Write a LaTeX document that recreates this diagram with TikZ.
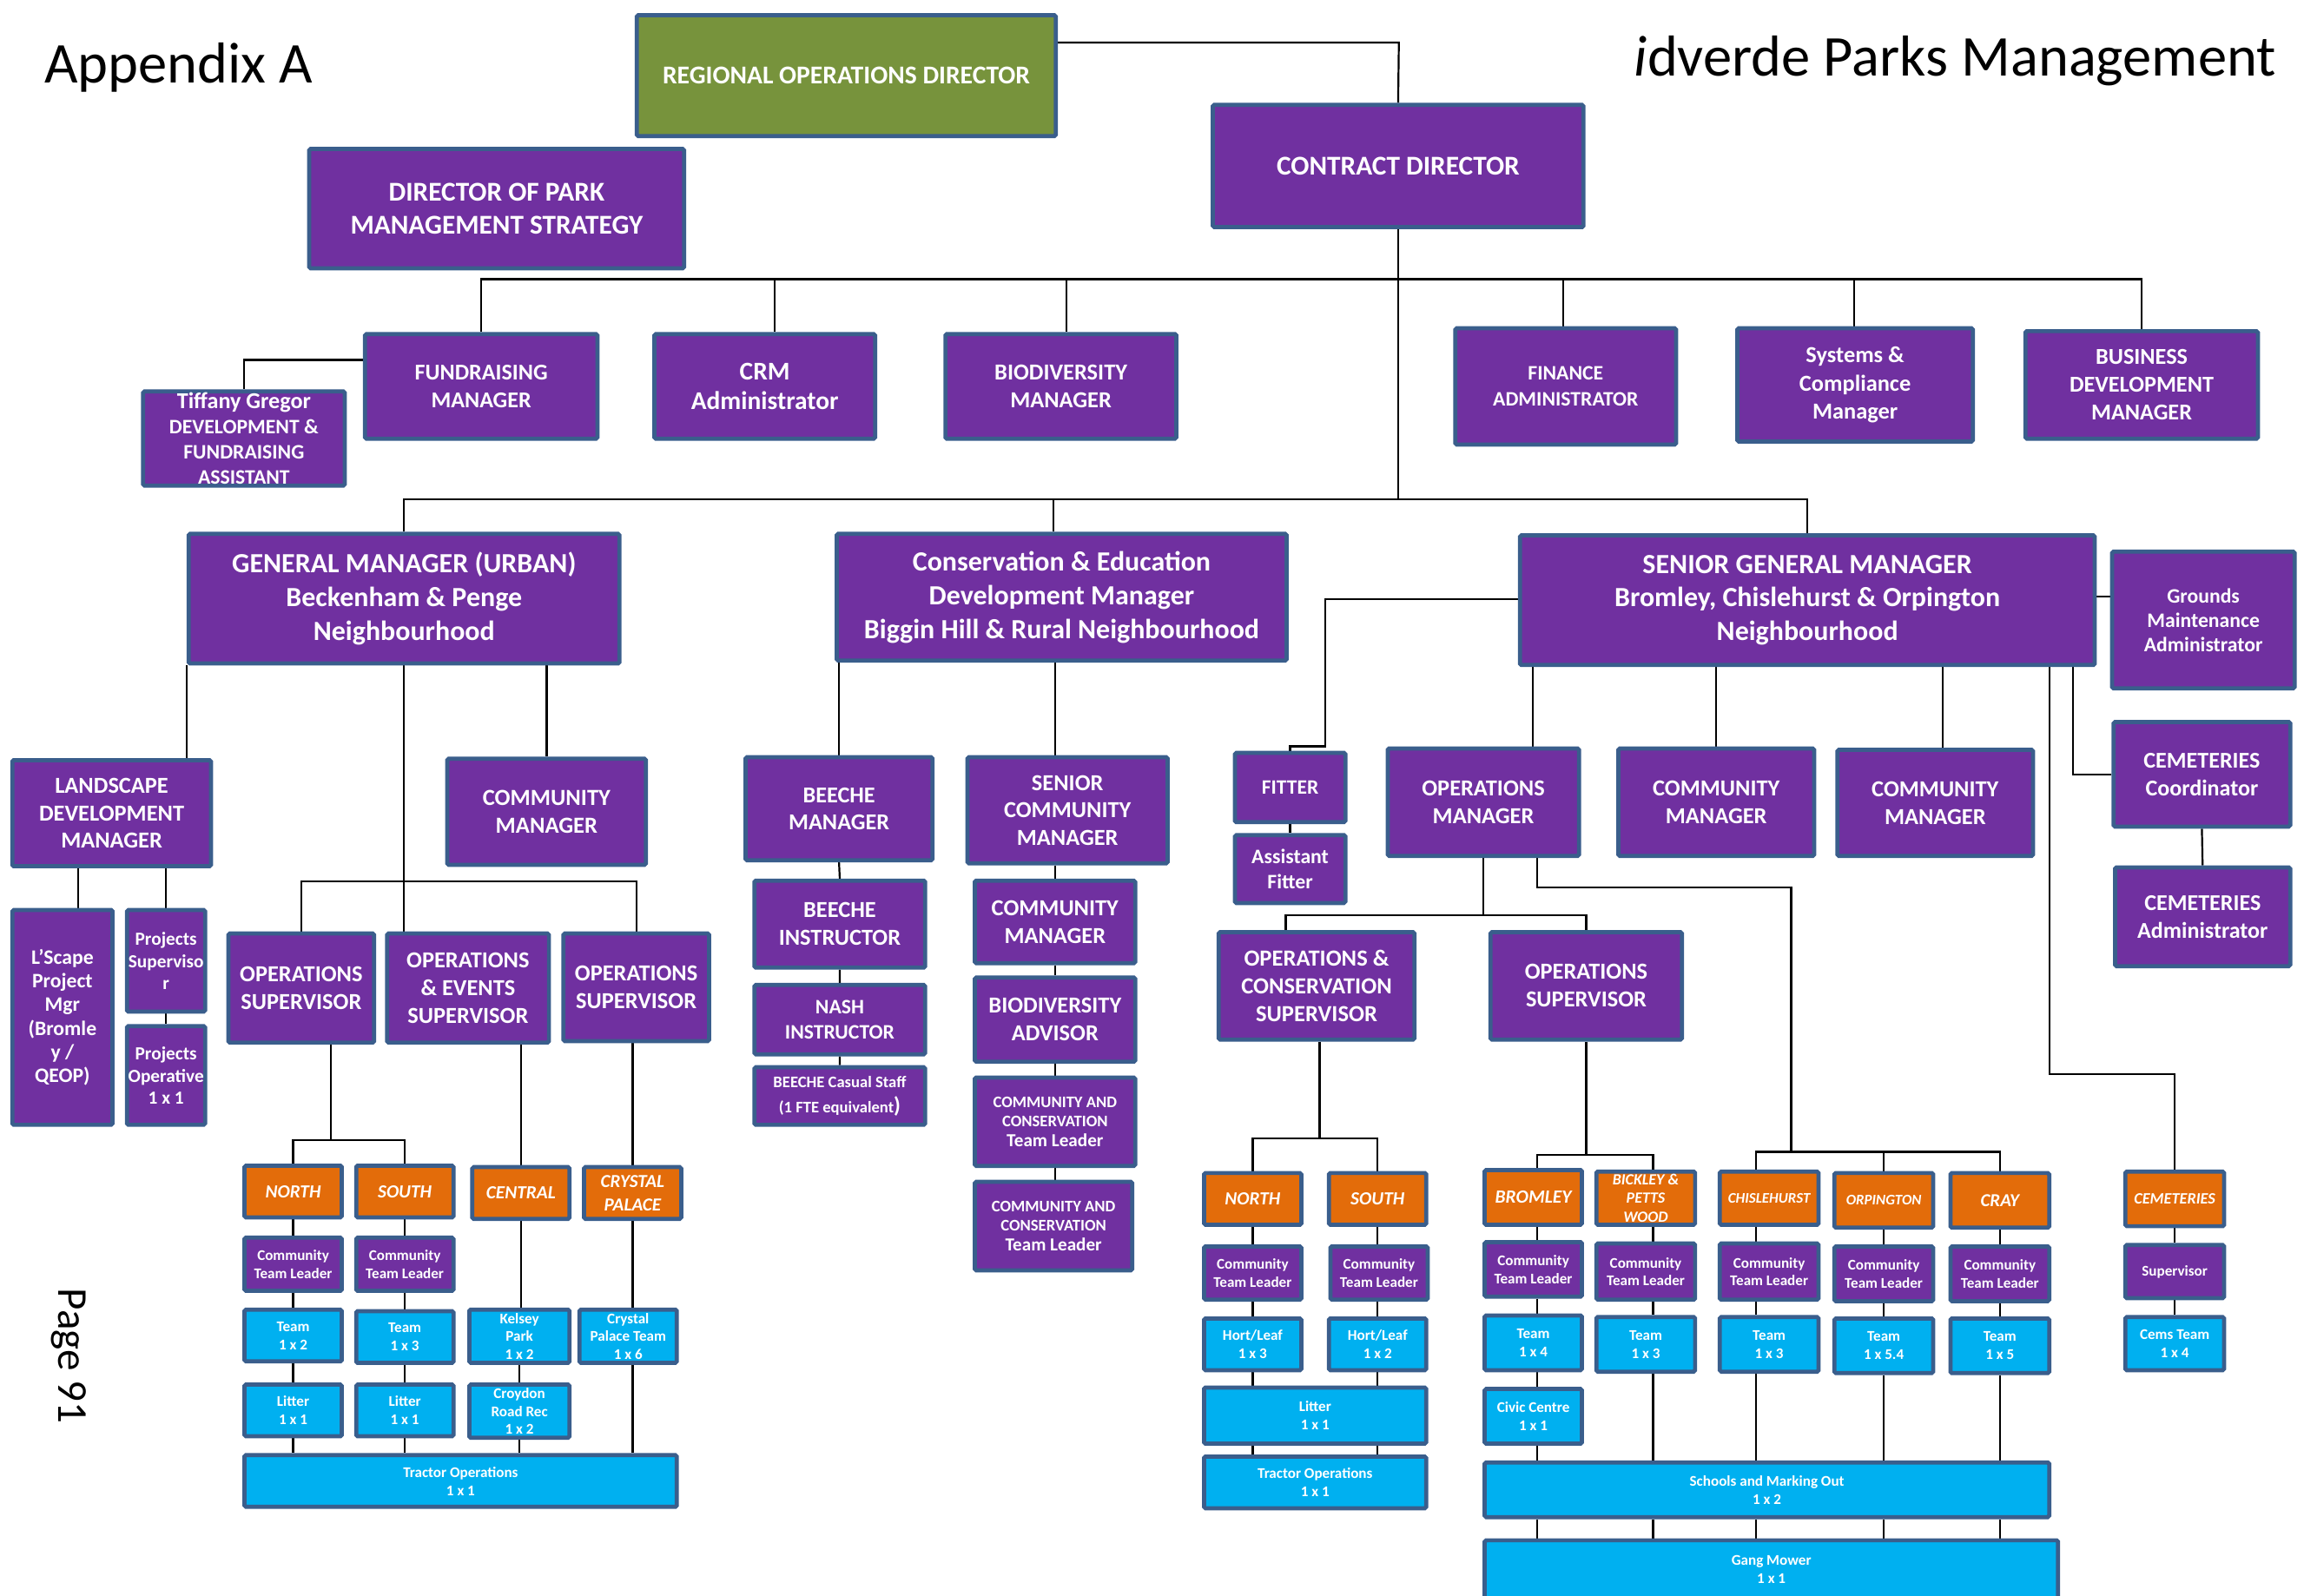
\documentclass[tikz,border=0pt]{standalone}
\usepackage{fontspec}
\setmainfont{Carlito}
\usetikzlibrary{backgrounds}
\definecolor{edge}{RGB}{58,94,140}
\definecolor{purp}{RGB}{112,48,160}
\definecolor{orng}{RGB}{227,108,10}
\definecolor{cyanbox}{RGB}{0,176,240}
\definecolor{leaf}{RGB}{119,147,60}
\newcommand\boxfont[2]{\fontsize{#1}{#2}\selectfont}
% style, name, x1, y1, x2, y2, text  (outer edges of the box)
\newcommand\orgbox[7]{\node[#1, minimum width={#5-#3-2.8}, minimum height={#6-#4-2.8}] (#2) at ({(#3+#5)/2},{(#4+#6)/2}) {#7};}
\begin{document}
\begin{tikzpicture}[x=1pt,y=-1pt,
 unit/.style={draw=edge, line width=2.8pt, text=white, align=center, inner sep=0pt, rounded corners=1pt},
 pbox/.style={unit, fill=purp},
 obox/.style={unit, fill=orng},
 cbox/.style={unit, fill=cyanbox},
 gbox/.style={unit, fill=leaf},
 fs/.style 2 args={font=\boxfont{#1}{#2}\bfseries},
 fsi/.style 2 args={font=\boxfont{#1}{#2}\bfseries\itshape},
 ctl/.style={pbox, fs={10.1}{12.2}},
 team/.style={cbox, fs={10.1}{12.4}},
 district/.style={obox, fsi={12.6}{15}},
 link/.style={draw=black, line width=1.3pt},
]
\useasboundingbox (0,0) rectangle (1568,1086);

% ---------- titles ----------
\node[anchor=base west, inner sep=0pt, font=\boxfont{39.3}{41}] (appx) at (30,56.5) {Appendix A};
\node[anchor=base west, inner sep=0pt, font=\boxfont{39.3}{41}] (brand) at (1112,51.5) {\textit{i}dverde Parks Management};
\node[rotate=-90, inner sep=0pt, font=\boxfont{29}{31}] (page) at (47,923) {Page 91};

% ---------- directors ----------
\orgbox{gbox,fs={17.5}{21}}{rod}{432}{9}{720}{94}{REGIONAL OPERATIONS DIRECTOR}
\orgbox{pbox,fs={18.5}{22}}{cd}{824}{70}{1079}{156}{CONTRACT DIRECTOR}
\orgbox{pbox,fs={18.5}{22}}{dpms}{209}{100}{467}{184}{DIRECTOR OF PARK\\MANAGEMENT STRATEGY}

% ---------- first tier ----------
\orgbox{pbox,fs={15.4}{19}}{fund}{247}{226}{408}{300}{FUNDRAISING\\MANAGER}
\orgbox{pbox,fs={14}{17.2}}{tiff}{96}{265}{236}{332}{{\boxfont{15.5}{17.2}Tiffany Gregor}\\DEVELOPMENT \&\\FUNDRAISING\\ASSISTANT}
\orgbox{pbox,fs={17.4}{20}}{crm}{444}{226}{597}{300}{CRM\\Administrator}
\orgbox{pbox,fs={15.6}{19}}{bio}{642}{226}{802}{300}{BIODIVERSITY\\MANAGER}
\orgbox{pbox,fs={14}{17.4}}{fin}{989}{222}{1142}{304}{FINANCE\\ADMINISTRATOR}
\orgbox{pbox,fs={15.6}{19.1}}{sys}{1181}{222}{1344}{302}{Systems \&\\Compliance\\Manager}
\orgbox{pbox,fs={15.5}{19}}{biz}{1377}{224}{1538}{300}{BUSINESS\\DEVELOPMENT\\MANAGER}

% ---------- neighbourhood managers ----------
\orgbox{pbox,fs={18.9}{23}}{gm}{127}{362}{423}{453}{GENERAL MANAGER (URBAN)\\Beckenham \& Penge\\Neighbourhood}
\orgbox{pbox,fs={18.9}{23}}{cons}{568}{362}{877}{451}{Conservation \& Education\\Development Manager\\Biggin Hill \& Rural Neighbourhood}
\orgbox{pbox,fs={18.9}{23}}{sgm}{1033}{363}{1427}{454}{SENIOR GENERAL MANAGER\\Bromley, Chislehurst \& Orpington\\Neighbourhood}
\orgbox{pbox,fs={14}{16.6}}{gma}{1436}{374}{1563}{470}{Grounds\\Maintenance\\Administrator}

% ---------- urban branch ----------
\orgbox{pbox,fs={15.6}{18.7}}{land}{7}{516}{145}{591}{LANDSCAPE\\DEVELOPMENT\\MANAGER}
\orgbox{pbox,fs={15.7}{19}}{cmu}{303}{515}{441}{590}{COMMUNITY\\MANAGER}
\orgbox{pbox,fs={14}{16}}{lspm}{7}{618}{78}{767}{L’Scape\\Project\\Mgr\\(Bromle\\y /\\QEOP)}
\orgbox{pbox,fs={12.6}{14.8}}{psup}{85}{618}{141}{690}{Projects\\Superviso\\r}
\orgbox{pbox,fs={12.6}{14.8}}{pop}{85}{697}{141}{767}{Projects\\Operative\\1 x 1}
\orgbox{pbox,fs={15.6}{19.1}}{os1}{154}{634}{256}{711}{OPERATIONS\\SUPERVISOR}
\orgbox{pbox,fs={15.6}{19}}{oe}{262}{634}{375}{711}{OPERATIONS\\\& EVENTS\\SUPERVISOR}
\orgbox{pbox,fs={15.6}{19.1}}{os2}{382}{634}{484}{710}{OPERATIONS\\SUPERVISOR}

\orgbox{district}{uN}{165}{792}{234}{830}{NORTH}
\orgbox{district}{uS}{241}{792}{310}{830}{SOUTH}
\orgbox{district}{uC}{320}{793}{389}{831}{CENTRAL}
\orgbox{obox,fsi={12.5}{15.8}}{uCP}{396}{793}{465}{831}{CRYSTAL\\PALACE}
\orgbox{ctl}{uctlN}{165}{841}{234}{880}{Community\\Team Leader}
\orgbox{ctl}{uctlS}{241}{841}{310}{880}{Community\\Team Leader}
\orgbox{team}{utmN}{165}{890}{234}{928}{Team\\1 x 2}
\orgbox{team}{utmS}{241}{891}{310}{929}{Team\\1 x 3}
\orgbox{team}{ultN}{165}{941}{234}{979}{Litter\\1 x 1}
\orgbox{team}{ultS}{241}{941}{310}{979}{Litter\\1 x 1}
\orgbox{cbox,fs={10.1}{12.1}}{ukp}{318}{890}{389}{929}{Kelsey\\Park\\1 x 2}
\orgbox{cbox,fs={10.1}{12.1}}{ucpt}{393}{890}{462}{929}{Crystal\\Palace Team\\1 x 6}
\orgbox{cbox,fs={10.1}{12.1}}{ucr}{318}{941}{389}{980}{Croydon\\Road Rec\\1 x 2}
\orgbox{team}{utr}{165}{989}{462}{1027}{Tractor Operations\\1 x 1}

% ---------- conservation branch ----------
\orgbox{pbox,fs={15.5}{18.7}}{bm}{506}{514}{636}{587}{BEECHE\\MANAGER}
\orgbox{pbox,fs={15.6}{18.7}}{bi}{512}{598}{631}{660}{BEECHE\\INSTRUCTOR}
\orgbox{pbox,fs={14}{16.8}}{ni}{512}{669}{631}{719}{NASH\\INSTRUCTOR}
\orgbox{pbox,fs={11}{17}}{bc}{512}{725}{631}{767}{BEECHE Casual Staff\\(1 FTE equivalent{\boxfont{15}{15})}}
\orgbox{pbox,fs={15.6}{18.7}}{scm}{657}{514}{796}{589}{SENIOR\\COMMUNITY\\MANAGER}
\orgbox{pbox,fs={15.6}{18.7}}{ccm}{662}{598}{774}{657}{COMMUNITY\\MANAGER}
\orgbox{pbox,fs={15.6}{18.7}}{ba}{662}{664}{774}{724}{BIODIVERSITY\\ADVISOR}
\orgbox{pbox,fs={11}{13.5}}{cct1}{662}{732}{774}{795}{COMMUNITY AND\\CONSERVATION\\{\boxfont{12.5}{14}Team Leader}}
\orgbox{pbox,fs={11}{13.5}}{cct2}{662}{803}{772}{866}{COMMUNITY AND\\CONSERVATION\\{\boxfont{12.5}{14}Team Leader}}

% ---------- senior general manager branch ----------
\orgbox{pbox,fs={13.9}{17}}{fit}{839}{511}{917}{561}{FITTER}
\orgbox{pbox,fs={14}{16.7}}{afit}{839}{567}{917}{616}{Assistant\\Fitter}
\orgbox{pbox,fs={15.6}{19}}{om}{943}{508}{1076}{584}{OPERATIONS\\MANAGER}
\orgbox{pbox,fs={15.6}{19}}{cma}{1100}{508}{1236}{584}{COMMUNITY\\MANAGER}
\orgbox{pbox,fs={15.6}{19}}{cmb}{1249}{509}{1385}{584}{COMMUNITY\\MANAGER}
\orgbox{pbox,fs={15.4}{19}}{cemc}{1437}{490}{1560}{564}{CEMETERIES\\Coordinator}
\orgbox{pbox,fs={15.4}{19}}{cema}{1438}{589}{1560}{659}{CEMETERIES\\Administrator}
\orgbox{pbox,fs={15.7}{19}}{ocs}{828}{633}{964}{709}{OPERATIONS \&\\CONSERVATION\\SUPERVISOR}
\orgbox{pbox,fs={15.6}{19}}{os3}{1013}{633}{1146}{709}{OPERATIONS\\SUPERVISOR}

\orgbox{district}{sN}{818}{797}{887}{835}{NORTH}
\orgbox{district}{sS}{903}{797}{972}{835}{SOUTH}
\orgbox{ctl}{sctlN}{818}{847}{887}{886}{Community\\Team Leader}
\orgbox{ctl}{sctlS}{904}{847}{973}{886}{Community\\Team Leader}
\orgbox{team}{hlN}{818}{896}{887}{934}{Hort/Leaf\\1 x 3}
\orgbox{team}{hlS}{903}{896}{972}{934}{Hort/Leaf\\1 x 2}
\orgbox{team}{slt}{818}{943}{972}{984}{Litter\\1 x 1}
\orgbox{team}{str}{818}{990}{972}{1028}{Tractor Operations\\1 x 1}

\orgbox{obox,fsi={12.7}{15}}{brom}{1009}{795}{1078}{835}{BROMLEY}
\orgbox{obox,fsi={10.6}{12.7}}{bick}{1085}{796}{1155}{835}{BICKLEY \&\\PETTS\\WOOD}
\orgbox{obox,fsi={10}{12}}{chis}{1169}{796}{1239}{835}{CHISLEHURST}
\orgbox{obox,fsi={10}{12}}{orp}{1247}{797}{1317}{837}{ORPINGTON}
\orgbox{obox,fsi={12.4}{15}}{cray}{1326}{797}{1396}{837}{CRAY}
\orgbox{ctl}{bctl}{1009}{844}{1078}{884}{Community\\Team Leader}
\orgbox{ctl}{kctl}{1085}{845}{1155}{886}{Community\\Team Leader}
\orgbox{ctl}{hctl}{1169}{845}{1239}{886}{Community\\Team Leader}
\orgbox{ctl}{octl}{1247}{847}{1317}{887}{Community\\Team Leader}
\orgbox{ctl}{rctl}{1326}{847}{1396}{887}{Community\\Team Leader}
\orgbox{team}{btm}{1009}{894}{1078}{934}{Team\\1 x 4}
\orgbox{team}{ktm}{1085}{895}{1155}{935}{Team\\1 x 3}
\orgbox{team}{htm}{1169}{895}{1239}{935}{Team\\1 x 3}
\orgbox{team}{otm}{1247}{896}{1317}{936}{Team\\1 x 5.4}
\orgbox{team}{rtm}{1326}{896}{1396}{936}{Team\\1 x 5}
\orgbox{team}{civ}{1009}{944}{1078}{984}{Civic Centre\\1 x 1}
\orgbox{team}{sch}{1009}{994}{1396}{1034}{Schools and Marking Out\\1 x 2}
\orgbox{team}{gang}{1009}{1047}{1402}{1090}{Gang Mower\\1 x 1}

\orgbox{obox,fsi={10.8}{13}}{cemo}{1445}{796}{1515}{836}{CEMETERIES}
\orgbox{pbox,fs={10.1}{12}}{csup}{1445}{846}{1515}{885}{Supervisor}
\orgbox{cbox,fs={10.1}{12}}{cemt}{1445}{895}{1515}{934}{Cems Team\\1 x 4}

% ---------- junctions and bus lines ----------
\coordinate (j1) at (952,29);
\coordinate (busB) at (0,190);
\coordinate (busC) at (0,340);
\coordinate (jt) at (166,245);
\coordinate (dcrm) at (527,190);
\coordinate (dbio) at (726,190);
\coordinate (dfin) at (1064,190);
\coordinate (dsys) at (1262,190);
\coordinate (dcons) at (717,340);
\coordinate (jg) at (0,406);
\coordinate (bOS) at (0,600);
\coordinate (xl) at (53,0);
\coordinate (xo1) at (225,0);
\coordinate (bNS) at (0,776);
\coordinate (jf1) at (902,408);
\coordinate (jf2) at (902,508);
\coordinate (xom) at (1043,0);
\coordinate (xcb) at (1322,0);
\coordinate (jc1) at (1395,731);
\coordinate (jc2) at (1411,527);
\coordinate (bOM) at (0,623);
\coordinate (xoc) at (875,0);
\coordinate (jo1) at (1046,604);
\coordinate (jo2) at (1219,604);
\coordinate (bCOC) at (0,784);
\coordinate (xch) at (1195,0);
\coordinate (xocb) at (898,0);
\coordinate (bNS2) at (0,775);
\coordinate (bBB) at (0,786);
\coordinate (xbr) at (1046,0);
\coordinate (xbk) at (1125,0);

\begin{scope}[on background layer]
% directors
\draw[link] (rod.east |- j1) -- (j1) -- (cd.north);
\draw[link] (cd.south) -- (cd.south |- busC);
\draw[link] (fund.north) |- (busB -| biz.north) -- (biz.north);
\draw[link] (dcrm) -- (dcrm |- crm.north);
\draw[link] (dbio) -- (dbio |- bio.north);
\draw[link] (dfin) -- (dfin |- fin.north);
\draw[link] (dsys) -- (dsys |- sys.north);
\draw[link] (fund.west |- jt) -- (jt) -- (tiff.north);
\draw[link] (gm.north) |- (busC -| sgm.north) -- (sgm.north);
\draw[link] (dcons) -- (dcons |- cons.north);
\draw[link] (sgm.east |- jg) -- (gma.west |- jg);

% urban branch
\draw[link] (gm.south west) -- (gm.south west |- land.north);
\draw[link] (cmu.north |- gm.south) -- (cmu.north);
\draw[link] (gm.south) -- (gm.south |- oe.north);
\draw[link] (os1.north) |- (bOS -| os2.north) -- (os2.north);
\draw[link] (land.south -| xl) -- (lspm.north -| xl);
\draw[link] (psup.north |- land.south) -- (psup.north);
\draw[link] (psup.south) -- (pop.north);
\draw[link] (os1.south -| xo1) -- (bNS -| xo1);
\draw[link] (uN.north) |- (bNS -| uS.north) -- (uS.north);
\draw[link] (oe.south -| uC.north) -- (uC.north);
\draw[link] (os2.south -| uCP.north) -- (uCP.north);
\draw[link] (uN.south) -- (uctlN.north) (uctlN.south) -- (utmN.north)
  (utmN.south) -- (ultN.north) (ultN.south) -- (ultN.south |- utr.north);
\draw[link] (uS.south) -- (uctlS.north) (uctlS.south) -- (utmS.north)
  (utmS.south) -- (ultS.north) (ultS.south) -- (ultS.south |- utr.north);
\draw[link] (uC.south) -- (uC.south |- ukp.north) (ukp.south) -- (ucr.north)
  (ucr.south) -- (ucr.south |- utr.north);
\draw[link] (uCP.south) -- (uCP.south |- ucpt.north)
  (uCP.south |- ucpt.south) -- (uCP.south |- utr.north);

% conservation branch
\draw[link] (bm.north |- cons.south) -- (bm.north);
\draw[link] (ccm.north |- cons.south) -- (ccm.north |- scm.north);
\draw[link] (bm.south) -- (bi.north) (bi.south) -- (ni.north) (ni.south) -- (bc.north);
\draw[link] (scm.south -| ccm.north) -- (ccm.north) (ccm.south) -- (ba.north)
  (ba.south) -- (cct1.north) (cct1.south) -- (cct1.south |- cct2.north);

% senior general manager branch
\draw[link] (sgm.west |- jf1) -- (jf1) -- (jf2) -| (fit.north);
\draw[link] (fit.south) -- (afit.north);
\draw[link] (sgm.south -| xom) -- (om.north -| xom);
\draw[link] (cma.north |- sgm.south) -- (cma.north);
\draw[link] (sgm.south -| xcb) -- (cmb.north -| xcb);
\draw[link] (sgm.south -| jc1) -- (jc1) -| (cemo.north);
\draw[link] (sgm.south -| jc2) -- (jc2) -- (cemc.west |- jc2);
\draw[link] (cemc.south) -- (cema.north);
\draw[link] (cemo.south) -- (csup.north) (csup.south) -- (cemt.north);

\draw[link] (om.south) -- (om.south |- bOM);
\draw[link] (xoc |- ocs.north) |- (bOM -| os3.north) -- (os3.north);
\draw[link] (om.south -| jo1) -- (jo1) -- (jo2) -- (jo2 |- bCOC);
\draw[link] (xch |- chis.north) |- (bCOC -| cray.north) -- (cray.north);
\draw[link] (orp.north) -- (orp.north |- bCOC);

\draw[link] (ocs.south -| xocb) -- (bNS2 -| xocb);
\draw[link] (sN.north) |- (bNS2 -| sS.north) -- (sS.north);
\draw[link] (sN.south) -- (sctlN.north) (sctlN.south) -- (hlN.north)
  (hlN.south) -- (hlN.south |- slt.north) (slt.south -| sN.south) -- (str.north -| sN.south);
\draw[link] (sS.south) -- (sS.south |- sctlS.north) (sS.south |- sctlS.south) -- (hlS.north)
  (hlS.south) -- (hlS.south |- slt.north) (slt.south -| sS.south) -- (str.north -| sS.south);

\draw[link] (os3.south) -- (os3.south |- bBB);
\draw[link] (xbr |- brom.north) |- (bBB -| xbk) -- (xbk |- bick.north);
\draw[link] (xbr |- brom.south) -- (xbr |- bctl.north) (xbr |- bctl.south) -- (xbr |- btm.north)
  (xbr |- btm.south) -- (xbr |- civ.north) (xbr |- civ.south) -- (xbr |- sch.north)
  (xbr |- sch.south) -- (xbr |- gang.north);
\draw[link] (xbk |- bick.south) -- (xbk |- kctl.north) (xbk |- kctl.south) -- (xbk |- ktm.north)
  (xbk |- ktm.south) -- (xbk |- sch.north) (xbk |- sch.south) -- (xbk |- gang.north);
\draw[link] (xch |- chis.south) -- (xch |- hctl.north) (xch |- hctl.south) -- (xch |- htm.north)
  (xch |- htm.south) -- (xch |- sch.north) (xch |- sch.south) -- (xch |- gang.north);
\draw[link] (orp.south) -- (octl.north) (octl.south) -- (otm.north)
  (otm.south) -- (otm.south |- sch.north) (otm.south |- sch.south) -- (otm.south |- gang.north);
\draw[link] (cray.south) -- (rctl.north) (rctl.south) -- (rtm.north)
  (rtm.south) -- (rtm.south |- sch.north) (rtm.south |- sch.south) -- (rtm.south |- gang.north);
\end{scope}
\end{tikzpicture}
\end{document}
